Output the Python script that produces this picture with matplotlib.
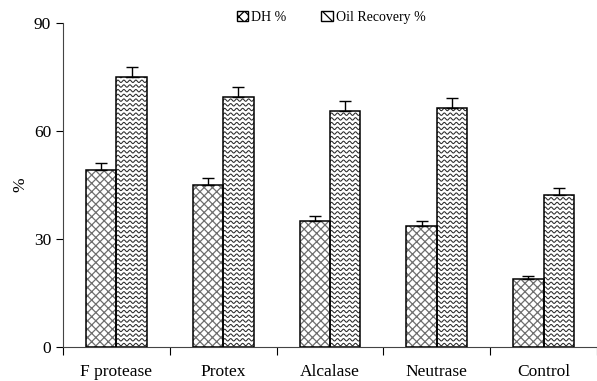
import numpy as np
import matplotlib.pyplot as plt
from matplotlib.lines import Line2D
from matplotlib.patches import Patch

plt.rcParams['font.family'] = ['Liberation Serif', 'DejaVu Serif']
plt.rcParams['hatch.linewidth'] = 0.9

# data
enzymes = ['F protease', 'Protex', 'Alcalase', 'Neutrase', 'Control']
dh = [49.2, 45.0, 35.0, 33.6, 19.0]
dh_err = [1.9, 1.9, 1.4, 1.3, 0.7]
oil = [75.0, 69.5, 65.6, 66.3, 42.2]
oil_err = [2.9, 2.8, 2.6, 2.8, 2.0]


def wavy_fill(ax, bar, spacing=4.7, wavelength=6.0, amp=1.2):
    """Draw wavy hatch lines clipped to a bar (in pixel units)."""
    trans = ax.transData
    x0, y0 = trans.transform((bar.get_x(), bar.get_y()))
    x1, y1 = trans.transform((bar.get_x() + bar.get_width(), bar.get_y() + bar.get_height()))
    xs = np.linspace(x0 - 2, x1 + 2, 200)
    inv = trans.inverted()
    y = y0 + 2.5
    while y < y1 + spacing:
        ys = y + amp * np.sin(2 * np.pi * (xs - x0) / wavelength)
        pts = inv.transform(np.column_stack([xs, ys]))
        ln = Line2D(pts[:, 0], pts[:, 1], color='#2a2a2a', lw=0.75, zorder=2.5)
        ax.add_line(ln)
        ln.set_clip_path(bar)
        y += spacing


fig = plt.figure(figsize=(5.97, 3.81), dpi=100)
ax = fig.add_axes([63 / 597, 1 - 347 / 381, 1 - 63 / 597, (347 - 23) / 381])

x = np.arange(len(enzymes))
w = 0.285
ekw = dict(elinewidth=1.0, capthick=1.0, ecolor='black')
# hatch fill in gray, outline drawn separately in black
ax.bar(x - w / 2, dh, w, facecolor='white', edgecolor='#6e6e6e',
       linewidth=0, hatch='xxxx', zorder=2)
ax.bar(x - w / 2, dh, w, yerr=[np.zeros(len(dh)), dh_err], capsize=4,
       fill=False, edgecolor='black', linewidth=1.1, error_kw=ekw, zorder=3)
b2 = ax.bar(x + w / 2, oil, w, facecolor='white', linewidth=0, zorder=2)
ax.bar(x + w / 2, oil, w, yerr=[np.zeros(len(oil)), oil_err], capsize=4,
       fill=False, edgecolor='black', linewidth=1.1, error_kw=ekw, zorder=3)

ax.set_xlim(-0.5, 4.5)
ax.set_ylim(0, 90)
fig.canvas.draw()
for bar in b2:
    wavy_fill(ax, bar)

ax.spines['top'].set_visible(False)
ax.spines['right'].set_visible(False)
ax.spines['left'].set_color('#444444')
ax.spines['bottom'].set_color('#444444')

ax.set_yticks([0, 30, 60, 90])
ax.set_xticks(np.arange(-0.5, 5, 1.0))
ax.set_xticklabels([])
ax.set_xticks(x, minor=True)
ax.set_xticklabels(enzymes, minor=True, fontsize=12.5)
ax.tick_params(axis='x', which='minor', length=0, pad=12)
ax.tick_params(axis='x', which='major', direction='out', length=6)
ax.tick_params(axis='y', direction='out', length=5, labelsize=12.5)
ax.set_ylabel('%', fontsize=12.5, labelpad=4)

h1 = Patch(facecolor='white', edgecolor='black', hatch='xxx', lw=1.0)
h2 = Patch(facecolor='white', edgecolor='black', hatch='\\\\\\', lw=1.0)
fig.legend([h1, h2], ['DH %', 'Oil Recovery %'], loc='upper center',
           bbox_to_anchor=(0.555, 1.005), ncol=2, frameon=False, fontsize=10,
           handlelength=0.8, handleheight=0.8, handletextpad=0.25, columnspacing=2.5)

fig.savefig('out.png', dpi=100)
